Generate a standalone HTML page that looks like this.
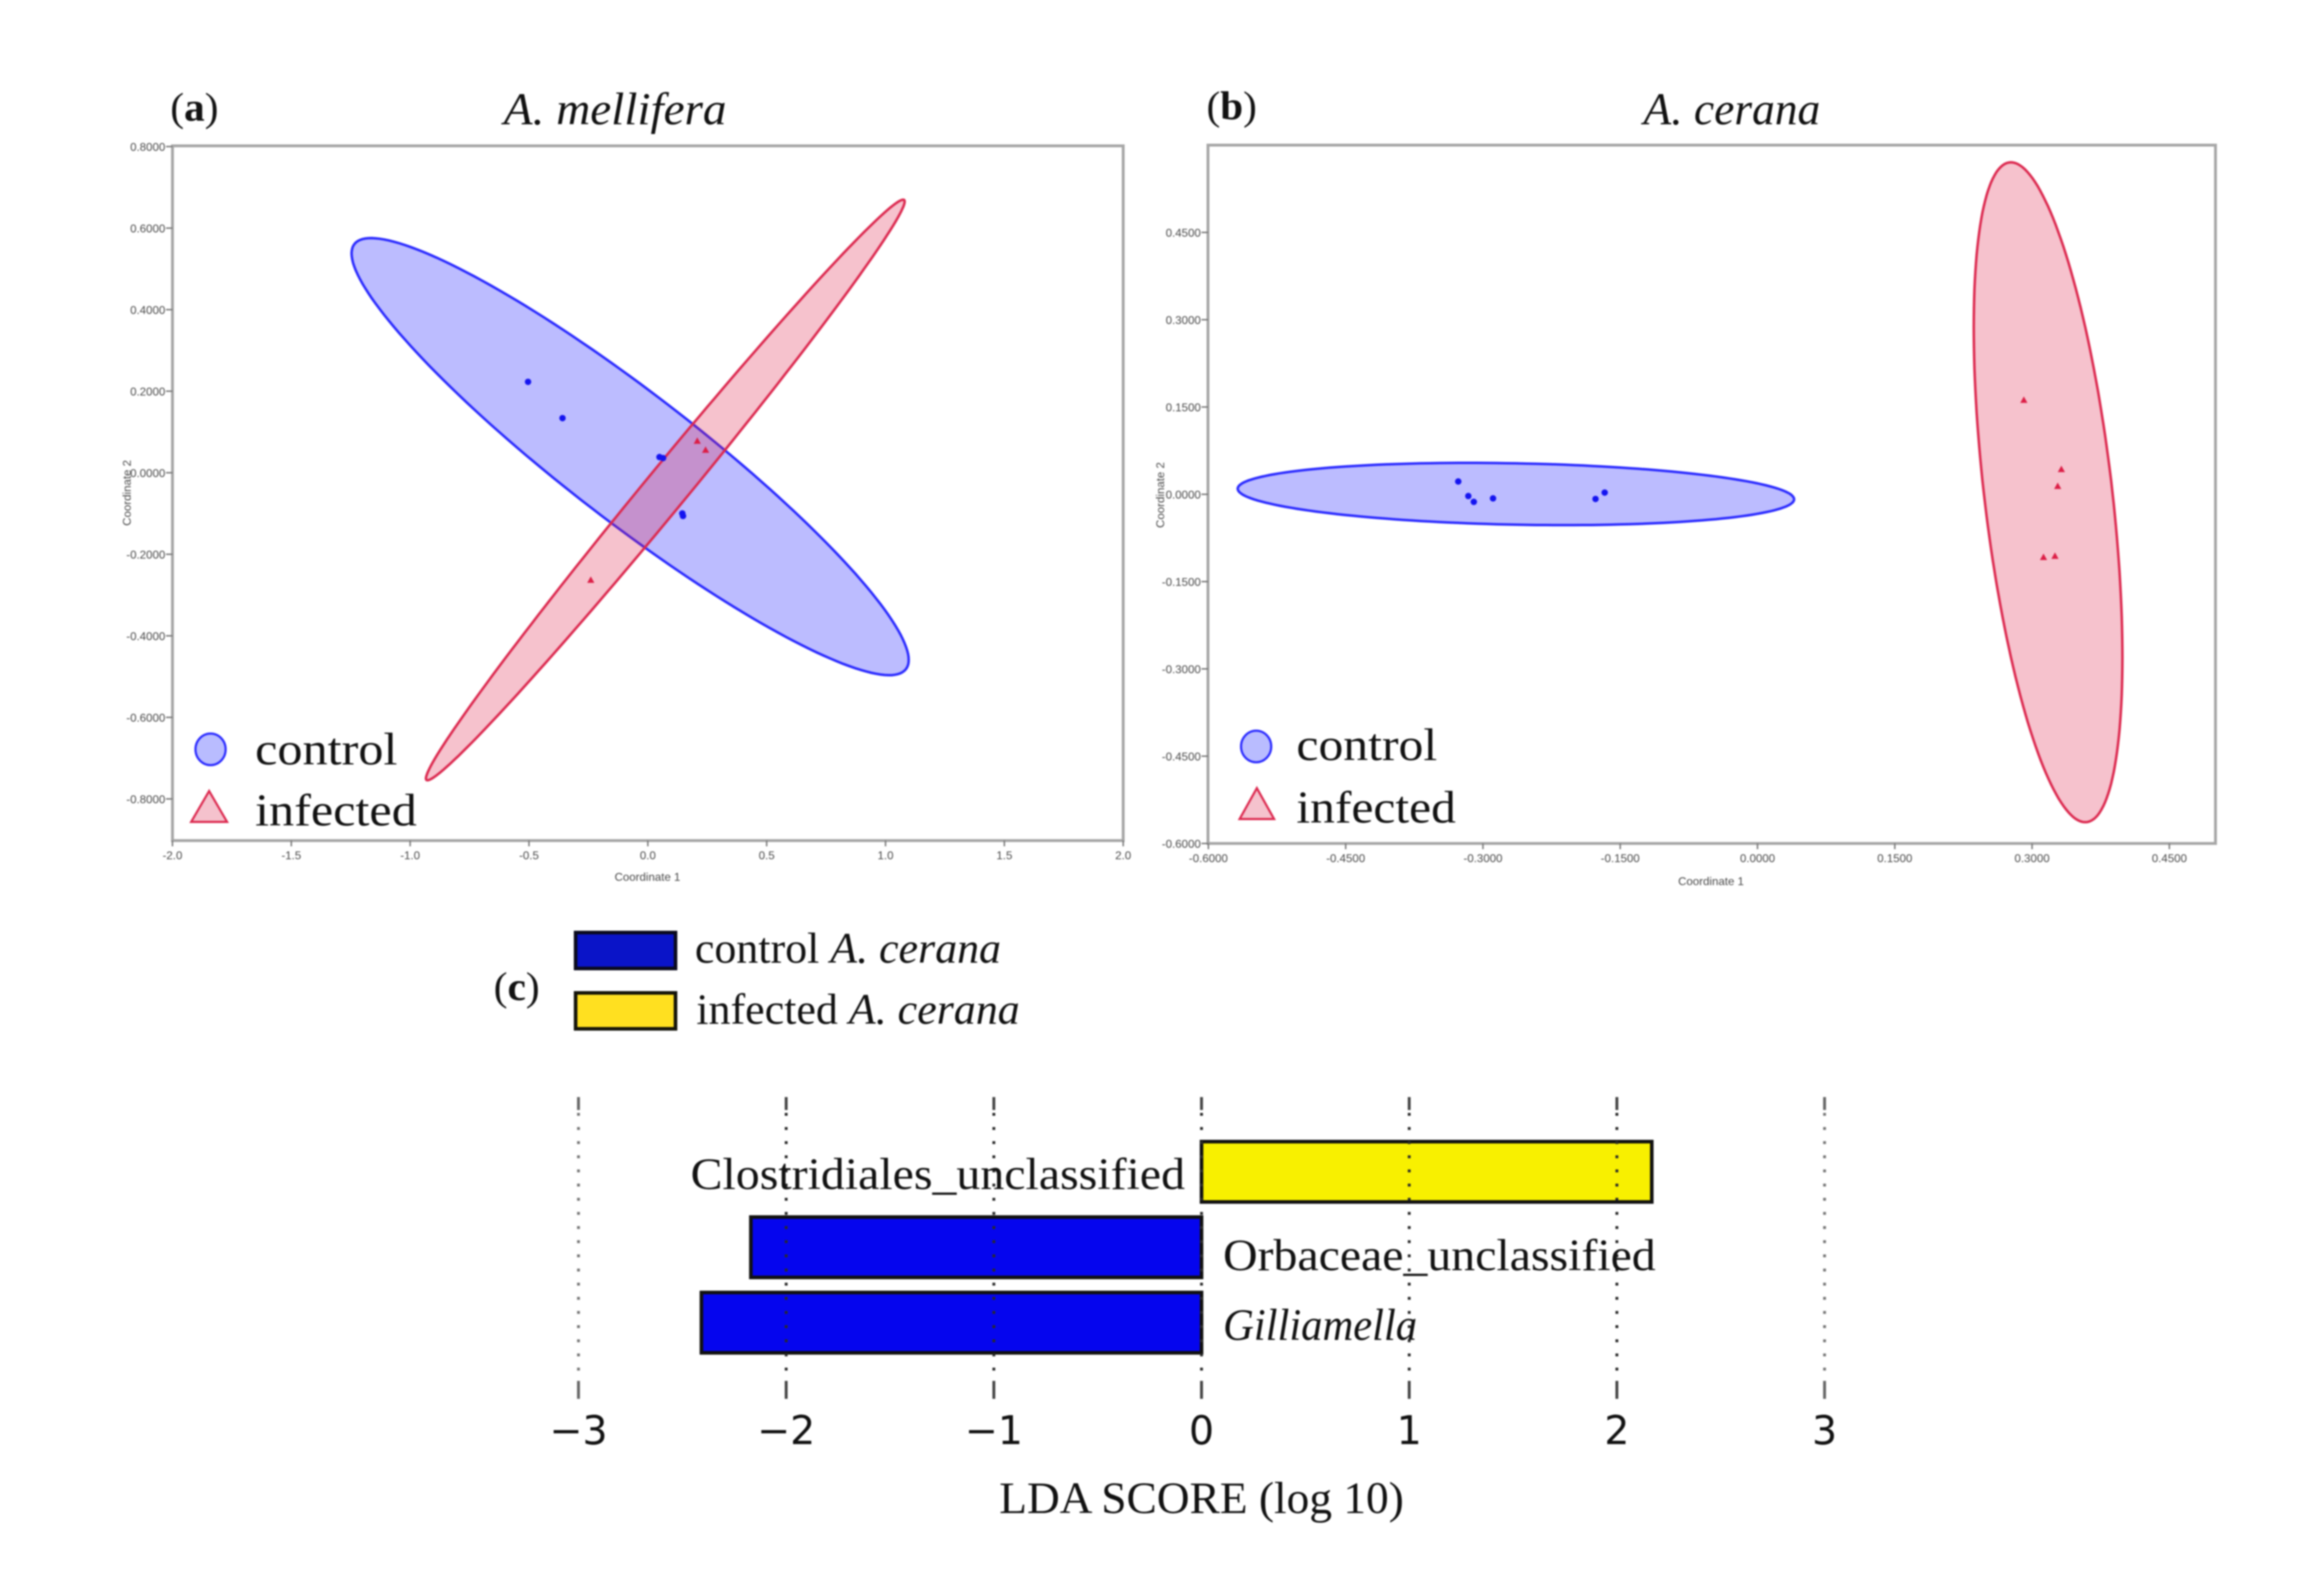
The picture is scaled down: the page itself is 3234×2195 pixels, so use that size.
<!DOCTYPE html>
<html lang="en">
<head>
<meta charset="utf-8">
<title>Beta diversity ordination and LDA score charts</title>
<style>
html,body{margin:0;padding:0;background:#fff;}
#figure{display:block;width:3234px;height:2195px;filter:blur(1px);}
text{font-family:"Liberation Serif",serif;fill:#111;}
.small{font-family:"Liberation Sans",sans-serif;fill:#4a4a4a;font-size:16px;}
</style>
</head>
<body>
<svg id="figure" xmlns="http://www.w3.org/2000/svg" width="3234" height="2195" viewBox="0 0 3234 2195">
  <rect x="0" y="0" width="3234" height="2195" fill="#fff"/>

  <g id="panel-a">
    <text x="237" y="168" font-size="56" textLength="67" lengthAdjust="spacingAndGlyphs">(<tspan font-weight="bold">a</tspan>)</text>
    <text x="701" y="173" font-size="64" font-style="italic" textLength="310" lengthAdjust="spacingAndGlyphs">A. mellifera</text>
    <text class="small" x="901" y="1226" text-anchor="middle">Coordinate 1</text>
    <text class="small" x="182" y="686" text-anchor="middle" transform="rotate(-90 182 686)">Coordinate 2</text>
  </g>

  <g id="panel-b">
    <text x="1679" y="166" font-size="56" textLength="70" lengthAdjust="spacingAndGlyphs">(<tspan font-weight="bold">b</tspan>)</text>
    <text x="2287" y="173" font-size="64" font-style="italic" textLength="246" lengthAdjust="spacingAndGlyphs">A. cerana</text>
    <text class="small" x="2381" y="1232" text-anchor="middle">Coordinate 1</text>
    <text class="small" x="1620" y="689" text-anchor="middle" transform="rotate(-90 1620 689)">Coordinate 2</text>
  </g>

  <g id="legend-a">
    <ellipse cx="293" cy="1043" rx="21" ry="22" fill="#b9bcff" stroke="#2a2aff" stroke-width="3"/>
    <text x="355" y="1064" font-size="64" textLength="198" lengthAdjust="spacingAndGlyphs">control</text>
    <polygon points="291,1101 316,1144 266,1144" fill="#f5c2cd" stroke="#dc2a50" stroke-width="3"/>
    <text x="355" y="1149" font-size="64" textLength="225" lengthAdjust="spacingAndGlyphs">infected</text>
  </g>

  <g id="legend-b">
    <ellipse cx="1748" cy="1039" rx="21" ry="22" fill="#b9bcff" stroke="#2a2aff" stroke-width="3"/>
    <text x="1804" y="1058" font-size="64" textLength="196" lengthAdjust="spacingAndGlyphs">control</text>
    <polygon points="1749,1097 1773,1140 1725,1140" fill="#f5c2cd" stroke="#dc2a50" stroke-width="3"/>
    <text x="1804" y="1145" font-size="64" textLength="222" lengthAdjust="spacingAndGlyphs">infected</text>
  </g>

  <g id="legend-c">
    <text x="687" y="1392" font-size="56" textLength="64" lengthAdjust="spacingAndGlyphs">(<tspan font-weight="bold">c</tspan>)</text>
    <rect x="801" y="1298" width="139" height="50" fill="#0a14c8" stroke="#0a0a1e" stroke-width="5"/>
    <text x="967" y="1340" font-size="60" textLength="426" lengthAdjust="spacingAndGlyphs">control <tspan font-style="italic">A. cerana</tspan></text>
    <rect x="801" y="1382" width="139" height="50" fill="#ffe020" stroke="#14140a" stroke-width="5"/>
    <text x="969" y="1425" font-size="60" textLength="450" lengthAdjust="spacingAndGlyphs">infected <tspan font-style="italic">A. cerana</tspan></text>
  </g>

  <g id="panel-c">
    <text x="1672" y="2106" font-size="62" text-anchor="middle" textLength="563" lengthAdjust="spacingAndGlyphs">LDA SCORE (log 10)</text>
  </g>
</svg>

<script>
// Panel a: A. mellifera
const aXTicks = [-2.0, -1.5, -1.0, -0.5, 0.0, 0.5, 1.0, 1.5, 2.0];
const aYTicks = [-0.8, -0.6, -0.4, -0.2, 0.0, 0.2, 0.4, 0.6, 0.8];
const aControlX = [-0.504, -0.359, 0.049, 0.064, 0.145, 0.148];
const aControlY = [0.223, 0.134, 0.0385, 0.036, -0.0997, -0.106];
const aInfectedX = [0.208, 0.243, -0.24];
const aInfectedY = [0.078, 0.056, -0.263];
const aControlMean = [-0.0745, 0.0395];
const aControlSpread = [1.172, 0.536];
const aControlRho = -0.93;
const aInfectedMean = [0.0735, -0.0423];
const aInfectedSpread = [1.007, 0.712];
const aInfectedRho = 0.9935;

// Panel b: A. cerana
const bXTicks = [-0.6, -0.45, -0.3, -0.15, 0.0, 0.15, 0.3, 0.45];
const bYTicks = [-0.6, -0.45, -0.3, -0.15, 0.0, 0.15, 0.3, 0.45];
const bControlX = [-0.327, -0.316, -0.31, -0.289, -0.177, -0.167];
const bControlY = [0.022, -0.003, -0.013, -0.007, -0.008, 0.003];
const bInfectedX = [0.291, 0.332, 0.328, 0.3125, 0.325];
const bInfectedY = [0.162, 0.043, 0.014, -0.108, -0.106];
const bControlMean = [-0.264, 0.0005];
const bControlSpread = [0.304, 0.0535];
const bControlRho = -0.17;
const bInfectedMean = [0.3175, 0.0035];
const bInfectedSpread = [0.0812, 0.567];
const bInfectedRho = -0.5;

// Panel c: LDA scores
const ldaCategories = ['Clostridiales_unclassified', 'Orbaceae_unclassified', 'Gilliamella'];
const ldaScores = [2.168, -2.17, -2.408];
const ldaTicks = [-3, -2, -1, 0, 1, 2, 3];

const NS = 'http://www.w3.org/2000/svg';

function mk(tag, parent) {
  const el = document.createElementNS(NS, tag);
  parent.appendChild(el);
  return el;
}
function geom(el, attrs) {
  for (const k in attrs) el.setAttribute(k, attrs[k]);
}
function linearScale(d0, d1, r0, r1) {
  return function (v) { return r0 + (v - d0) / (d1 - d0) * (r1 - r0); };
}

function ellipsePath(mean, spread, rho, sx, sy) {
  const q = Math.sqrt(1 - rho * rho);
  const parts = [];
  for (let k = 0; k < 180; k++) {
    const t = k / 180 * 2 * Math.PI;
    const dx = mean[0] + spread[0] * Math.cos(t);
    const dy = mean[1] + spread[1] * (rho * Math.cos(t) + q * Math.sin(t));
    parts.push((k === 0 ? 'M' : 'L') + sx(dx).toFixed(1) + ' ' + sy(dy).toFixed(1));
  }
  return parts.join(' ') + ' Z';
}

function drawScatter(root, cfg) {
  const sx = cfg.sx, sy = cfg.sy;

  const frame = mk('rect', root);
  geom(frame, {x: cfg.left, y: cfg.top, width: cfg.right - cfg.left, height: cfg.bottom - cfg.top, fill: 'none', stroke: '#a6a6a6', 'stroke-width': 4});
  
  

  cfg.xTicks.forEach(function (v) {
    const tick = mk('line', root);
    geom(tick, {x1: sx(v), x2: sx(v), y1: cfg.bottom, y2: cfg.bottom + 8, stroke: '#777', 'stroke-width': 2});
    
    
    const label = mk('text', root);
    geom(label, {x: sx(v), y: cfg.bottom + 26, 'text-anchor': 'middle', class: 'small'});
    
    
    label.textContent = v.toFixed(cfg.xDigits);
  });

  cfg.yTicks.forEach(function (v) {
    const tick = mk('line', root);
    geom(tick, {x1: cfg.left - 9, x2: cfg.left, y1: sy(v), y2: sy(v), stroke: '#777', 'stroke-width': 2});
    
    
    const label = mk('text', root);
    geom(label, {x: cfg.left - 10, y: sy(v) + 6, 'text-anchor': 'end', class: 'small'});
    
    
    label.textContent = v.toFixed(4);
  });

  const blue = mk('path', root);
  geom(blue, {d: ellipsePath(cfg.controlMean, cfg.controlSpread, cfg.controlRho, sx, sy), fill: '#2020ff', 'fill-opacity': 0.3, stroke: '#2a2aff', 'stroke-width': 3.5});
  
  

  const red = mk('path', root);
  geom(red, {d: ellipsePath(cfg.infectedMean, cfg.infectedSpread, cfg.infectedRho, sx, sy), fill: '#dc1e46', 'fill-opacity': 0.27, stroke: '#dc2a50', 'stroke-width': 3.5});
  
  

  cfg.controlX.forEach(function (v, i) {
    const dot = mk('circle', root);
    geom(dot, {cx: sx(v), cy: sy(cfg.controlY[i]), r: 4.5, fill: '#1414f0'});
    
    
  });

  cfg.infectedX.forEach(function (v, i) {
    const px = sx(v), py = sy(cfg.infectedY[i]);
    const tri = mk('polygon', root);
    geom(tri, {points: px + ',' + (py - 5) + ' ' + (px + 5) + ',' + (py + 4) + ' ' + (px - 5) + ',' + (py + 4), fill: '#dc1e46'});
    
    
  });
}

drawScatter(document.getElementById('panel-a'), {
  left: 240, right: 1563, top: 203, bottom: 1170,
  sx: linearScale(-2, 2, 240, 1563),
  sy: linearScale(0, 0.8, 658, 204),
  xTicks: aXTicks, yTicks: aYTicks, xDigits: 1,
  controlX: aControlX, controlY: aControlY,
  infectedX: aInfectedX, infectedY: aInfectedY,
  controlMean: aControlMean, controlSpread: aControlSpread, controlRho: aControlRho,
  infectedMean: aInfectedMean, infectedSpread: aInfectedSpread, infectedRho: aInfectedRho
});

drawScatter(document.getElementById('panel-b'), {
  left: 1681, right: 3083, top: 202, bottom: 1174,
  sx: linearScale(0, 0.45, 2445.7, 3018.8),
  sy: linearScale(0, 0.45, 688, 323.5),
  xTicks: bXTicks, yTicks: bYTicks, xDigits: 4,
  controlX: bControlX, controlY: bControlY,
  infectedX: bInfectedX, infectedY: bInfectedY,
  controlMean: bControlMean, controlSpread: bControlSpread, controlRho: bControlRho,
  infectedMean: bInfectedMean, infectedSpread: bInfectedSpread, infectedRho: bInfectedRho
});

(function drawLda() {
  const root = document.getElementById('panel-c');
  const sx = linearScale(0, 3, 1672, 2539);
  const bandTop = function (i) { return 1589 + i * 105; };
  const bandHeight = 84;
  const labelWidths = {Clostridiales_unclassified: 688, Orbaceae_unclassified: 602, Gilliamella: 270};

  ldaCategories.forEach(function (name, i) {
    const score = ldaScores[i];
    const x0 = Math.min(sx(0), sx(score));
    const bar = mk('rect', root);
    geom(bar, {x: x0, y: bandTop(i), width: Math.abs(sx(score) - sx(0)), height: bandHeight, fill: score > 0 ? '#f8f000' : '#0505ee', stroke: '#111', 'stroke-width': 5});
    
    
  });

  ldaTicks.forEach(function (v) {
    const px = sx(v);
    const outer = (v === -3 || v === 3);
    const grid = mk('line', root);
    geom(grid, {x1: px, x2: px, y1: 1549, y2: 1920, stroke: outer ? '#777' : '#2a2a2a', 'stroke-width': 4, 'stroke-dasharray': '4 15.7'});
    
    

    const topTick = mk('line', root);
    geom(topTick, {x1: px, x2: px, y1: 1527, y2: 1545, stroke: outer ? '#666' : '#444', 'stroke-width': 4});
    
    

    const bottomTick = mk('line', root);
    geom(bottomTick, {x1: px, x2: px, y1: 1922, y2: 1947, stroke: outer ? '#666' : '#444', 'stroke-width': 4});
    
    

    const label = mk('text', root);
    geom(label, {x: px, y: 2010, 'text-anchor': 'middle', 'font-size': 55, style: 'font-family:"DejaVu Sans",sans-serif'});
    
    
    label.textContent = (v < 0 ? '\u2212' + Math.abs(v) : String(v));
  });

  ldaCategories.forEach(function (name, i) {
    const score = ldaScores[i];
    const center = bandTop(i) + bandHeight / 2;
    const label = mk('text', root);
    geom(label, {
      x: score > 0 ? sx(0) - 23 : sx(0) + 30,
      y: center + (i === 1 ? 32 : 24),
      'text-anchor': score > 0 ? 'end' : 'start',
      'font-size': 62,
      textLength: labelWidths[name],
      lengthAdjust: 'spacingAndGlyphs',
      'font-style': name === 'Gilliamella' ? 'italic' : 'normal'
    });
    
    
    label.textContent = name;
  });
})();
</script>
</body>
</html>
